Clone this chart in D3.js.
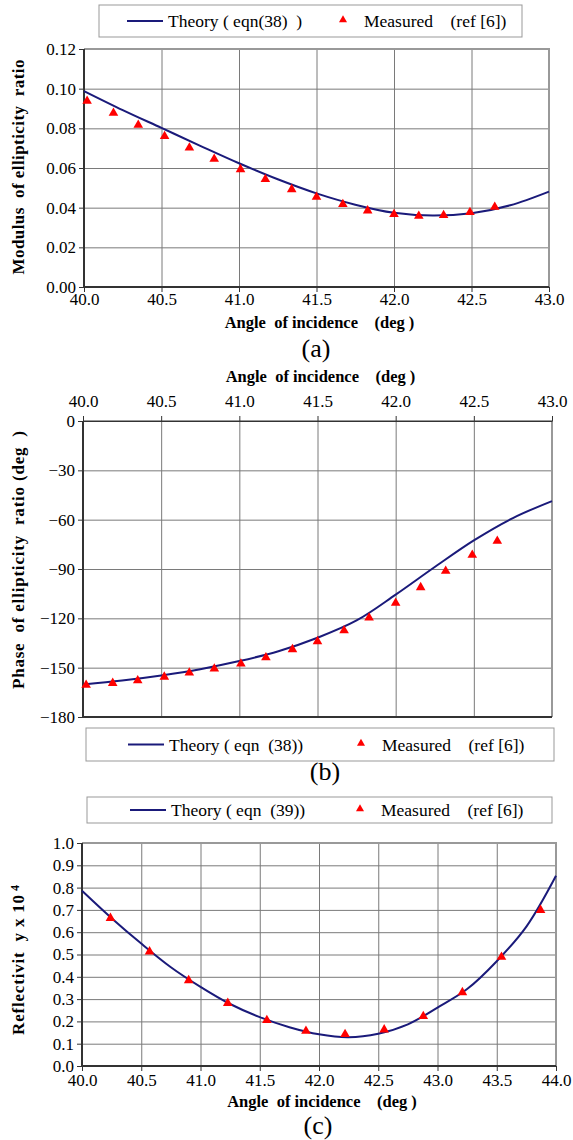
<!DOCTYPE html>
<html>
<head>
<meta charset="utf-8">
<script src="https://cdn.jsdelivr.net/npm/d3@7"></script>
<style>
  body { margin: 0; background: #fff; }
  svg text { font-family: "Liberation Serif", "DejaVu Serif", serif !important; fill: #000; }
  .grid line { stroke: #7a7a7a; stroke-width: 1; }
  .grid path { display: none; }
  .axis path, .axis line { stroke: #333; }
  .axis text { font-size: 17px; }
</style>
</head>
<body>
<script>
// angles
var thAngles = [40.0, 40.25, 40.5, 40.75, 41.0, 41.25, 41.5, 41.75, 42.0, 42.25, 42.5, 42.75, 43.0];
var msAngles = [40.02, 40.19, 40.35, 40.52, 40.68, 40.84, 41.01, 41.17, 41.34, 41.50, 41.67, 41.83, 42.00, 42.16, 42.32, 42.49, 42.65];

// (a) modulus of ellipticity ratio
var modTheory = [0.0988, 0.0892, 0.0802, 0.0712, 0.0624, 0.0543, 0.0472, 0.0415, 0.0374, 0.0360, 0.0372, 0.0412, 0.0481];
var modMeasured = [0.0938, 0.0877, 0.0817, 0.0760, 0.0702, 0.0645, 0.0593, 0.0543, 0.0492, 0.0454, 0.0417, 0.0385, 0.0367, 0.0358, 0.0362, 0.0377, 0.0403];

// (b) phase of ellipticity ratio
var phaseTheory = [-160.2, -157.8, -154.7, -150.9, -146.0, -140.0, -131.8, -121.3, -105.6, -88.8, -72.6, -59.0, -48.7];
var phaseMeasured = [-160.6, -159.4, -157.8, -155.6, -153.1, -150.7, -147.6, -143.8, -138.9, -134.0, -127.4, -119.6, -110.7, -101.2, -91.2, -81.5, -73.0];

// (c) reflectivity
var refAngles = [40.0, 40.25, 40.5, 40.75, 41.0, 41.25, 41.5, 41.75, 42.0, 42.25, 42.5, 42.75, 43.0, 43.25, 43.5, 43.75, 44.0];
var refTheory = [0.786, 0.663, 0.549, 0.443, 0.355, 0.278, 0.219, 0.174, 0.142, 0.129, 0.145, 0.187, 0.262, 0.345, 0.470, 0.625, 0.853];
var refMsAngles = [40.24, 40.57, 40.90, 41.23, 41.56, 41.89, 42.22, 42.55, 42.88, 43.21, 43.54, 43.87];
var refMeasured = [0.663, 0.513, 0.384, 0.282, 0.205, 0.157, 0.142, 0.163, 0.223, 0.330, 0.489, 0.699];

var xTicksA = [40.0, 40.5, 41.0, 41.5, 42.0, 42.5, 43.0];
var xTicksC = [40.0, 40.5, 41.0, 41.5, 42.0, 42.5, 43.0, 43.5, 44.0];
var yTicksA = [0, 0.02, 0.04, 0.06, 0.08, 0.10, 0.12];
var yTicksB = [-180, -150, -120, -90, -60, -30, 0];
var yTicksC = [0, 0.1, 0.2, 0.3, 0.4, 0.5, 0.6, 0.7, 0.8, 0.9, 1.0];

var lineColor = "#1a1a7a", markColor = "#ff0000";
var serif = "'Liberation Serif', 'DejaVu Serif', serif";

var svg = d3.select("body").append("svg")
    .attr("width", 573)
    .attr("height", 1140)
    .attr("font-family", serif);

function zip(xs, ys) {
    return xs.map(function (x, i) { return { x: x, y: ys[i] }; });
}

function drawLegend(box, theoryText) {
    var g = svg.append("g");
    g.append("rect")
        .attr("x", box.x).attr("y", box.y)
        .attr("width", box.w).attr("height", box.h)
        .attr("fill", "#fff").attr("stroke", "#999").attr("stroke-width", 1);
    var cy = box.y + box.h / 2;
    g.append("line")
        .attr("x1", box.lx).attr("x2", box.lx + 36)
        .attr("y1", cy).attr("y2", cy)
        .attr("stroke", lineColor).attr("stroke-width", 2);
    g.append("text")
        .attr("x", box.lx + 41).attr("y", cy + 6)
        .style("font-size", "17.5px")
        .attr("xml:space", "preserve")
        .text(theoryText);
    g.append("path")
        .attr("d", d3.symbol().type(d3.symbolTriangle).size(28)())
        .attr("transform", "translate(" + box.mx + "," + (cy - 1) + ")")
        .attr("fill", markColor);
    g.append("text")
        .attr("x", box.mx + 21).attr("y", cy + 6)
        .style("font-size", "17.5px")
        .attr("xml:space", "preserve")
        .text("Measured    (ref [6])");
}

function drawPanel(p) {
    var x = d3.scaleLinear().domain(p.xDomain).range([p.left, p.right]);
    var y = d3.scaleLinear().domain(p.yDomain).range([p.bottom, p.top]);
    var g = svg.append("g");

    // gridlines
    g.append("g").attr("class", "grid")
        .attr("transform", "translate(0," + p.bottom + ")")
        .call(d3.axisBottom(x).tickValues(p.xTicks).tickSize(-(p.bottom - p.top)).tickFormat(""));
    g.append("g").attr("class", "grid")
        .attr("transform", "translate(" + p.left + ",0)")
        .call(d3.axisLeft(y).tickValues(p.yTicks).tickSize(-(p.right - p.left)).tickFormat(""));

    // frame top / right
    g.append("path")
        .attr("d", "M" + p.left + "," + p.top + "H" + p.right + "V" + p.bottom)
        .attr("fill", "none").attr("stroke", "#999").attr("stroke-width", 2);

    // axes
    var xAxis = (p.xTop ? d3.axisTop(x) : d3.axisBottom(x))
        .tickValues(p.xTicks).tickSize(5).tickSizeOuter(0)
        .tickFormat(d3.format(".1f"));
    var xg = g.append("g").attr("class", "axis")
        .attr("transform", "translate(0," + (p.xTop ? p.top : p.bottom) + ")")
        .call(xAxis)
        .attr("font-family", serif);
    xg.selectAll("text").attr("dy", p.xTop ? "-0.35em" : (p.xDy || "0.58em"));
    if (p.xTop) xg.selectAll(".tick line").attr("stroke", "none");

    var yAxis = d3.axisLeft(y).tickValues(p.yTicks).tickSize(5).tickSizeOuter(0)
        .tickFormat(d3.format(p.yFormat));
    var yg = g.append("g").attr("class", "axis")
        .attr("transform", "translate(" + p.left + ",0)")
        .call(yAxis)
        .attr("font-family", serif);
    yg.selectAll("text").attr("x", -8);

    // strong left and bottom lines
    g.append("path")
        .attr("d", "M" + p.left + "," + p.top + "V" + p.bottom + "H" + p.right)
        .attr("fill", "none").attr("stroke", "#333").attr("stroke-width", 2);

    // theory line
    var line = d3.line()
        .x(function (d) { return x(d.x); })
        .y(function (d) { return y(d.y); })
        .curve(d3.curveCatmullRom.alpha(0.5));
    g.append("path")
        .datum(zip(p.thX, p.thY))
        .attr("d", line)
        .attr("fill", "none")
        .attr("stroke", lineColor)
        .attr("stroke-width", 2);

    // measured points
    g.selectAll(".pt")
        .data(zip(p.msX, p.msY))
        .enter().append("path")
        .attr("class", "pt")
        .attr("d", d3.symbol().type(d3.symbolTriangle).size(40)())
        .attr("transform", function (d) { return "translate(" + x(d.x) + "," + y(d.y) + ")"; })
        .attr("fill", markColor);

    // axis titles
    g.append("text")
        .attr("x", (p.left + p.right) / 2 + 3)
        .attr("y", p.xTitleY)
        .attr("text-anchor", "middle")
        .style("font-size", "16.5px")
        .style("font-weight", "bold")
        .attr("xml:space", "preserve")
        .text("Angle  of incidence    (deg )");

    var yt = g.append("text")
        .attr("transform", "translate(24," + p.yTitleY + ") rotate(-90)")
        .attr("text-anchor", "middle")
        .style("font-size", "17px")
        .style("font-weight", "bold")
        .attr("xml:space", "preserve");
    yt.append("tspan")
        .attr("textLength", p.yTitleLen)
        .attr("lengthAdjust", "spacing")
        .text(p.yTitle);
    if (p.yTitleSup) {
        yt.append("tspan").attr("dx", 3).attr("dy", "-0.45em").style("font-size", "12px").text(p.yTitleSup);
    }

    // panel letter
    g.append("text")
        .attr("x", p.letterX).attr("y", p.letterY)
        .attr("text-anchor", "middle")
        .style("font-size", "26px")
        .text(p.letter);
}

// (a)
drawLegend({ x: 99, y: 5, w: 423, h: 32, lx: 127, mx: 343 }, "Theory ( eqn(38)  )");
drawPanel({
    left: 84, right: 549, top: 49, bottom: 287,
    xDomain: [40, 43], yDomain: [0, 0.12],
    xTicks: xTicksA, yTicks: yTicksA, yFormat: ".2f",
    thX: thAngles, thY: modTheory, msX: msAngles, msY: modMeasured,
    xTitleY: 328,
    yTitle: "Modulus  of ellipticity  ratio", yTitleLen: 215, yTitleY: 167,
    letter: "(a)", letterX: 316, letterY: 357
});

// (b)
drawPanel({
    left: 83, right: 552, top: 421, bottom: 717, xTop: true,
    xDomain: [40, 43], yDomain: [-180, 0],
    xTicks: xTicksA, yTicks: yTicksB, yFormat: "d",
    thX: thAngles, thY: phaseTheory, msX: msAngles, msY: phaseMeasured,
    xTitleY: 382,
    yTitle: "Phase  of ellipticity  ratio (deg  )", yTitleLen: 258, yTitleY: 560,
    letter: "(b)", letterX: 325, letterY: 780
});
drawLegend({ x: 86, y: 728, w: 468, h: 33, lx: 128, mx: 361 }, "Theory ( eqn  (38))");

// (c)
drawLegend({ x: 87, y: 797, w: 465, h: 26, lx: 130, mx: 360 }, "Theory ( eqn  (39))");
drawPanel({
    left: 82, right: 556, top: 843, bottom: 1066,
    xDomain: [40, 44], yDomain: [0, 1.0],
    xTicks: xTicksC, yTicks: yTicksC, yFormat: ".1f", xDy: "0.72em",
    thX: refAngles, thY: refTheory, msX: refMsAngles, msY: refMeasured,
    xTitleY: 1107,
    yTitle: "Reflectivit  y x 10", yTitleLen: 140, yTitleSup: "4", yTitleY: 960,
    letter: "(c)", letterX: 318, letterY: 1134
});
</script>
</body>
</html>
